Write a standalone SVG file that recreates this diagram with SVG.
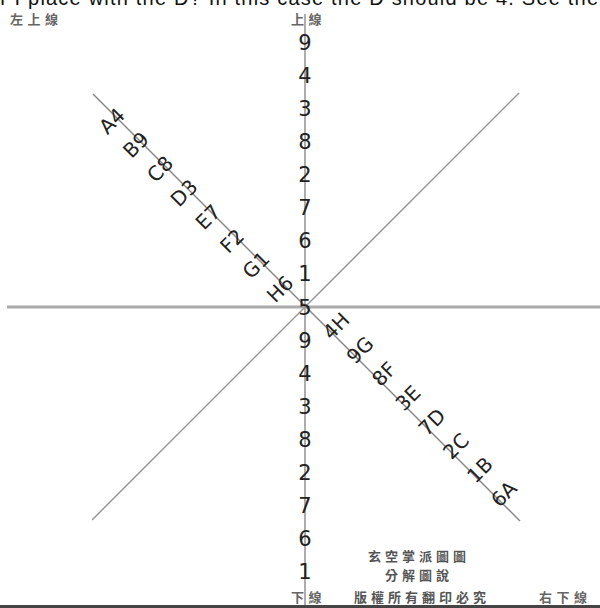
<svg xmlns="http://www.w3.org/2000/svg" width="600" height="608" viewBox="0 0 600 608">
<style>
.num{font-family:"DejaVu Sans",sans-serif;font-size:21px;fill:#222;text-anchor:middle}
.lab{font-family:"DejaVu Sans",sans-serif;font-size:20px;fill:#222;text-anchor:middle}
.cjk{font-family:"Noto Sans CJK TC","Noto Sans CJK SC",sans-serif;font-size:13px;font-weight:bold;fill:#666;letter-spacing:4.5px}
.cjk2{font-family:"Noto Sans CJK TC","Noto Sans CJK SC",sans-serif;font-size:13px;font-weight:bold;fill:#555;text-anchor:middle;letter-spacing:4px}
</style>
<rect width="600" height="608" fill="#fff"/>
<text x="0" y="5" font-family="Liberation Sans,Arial,sans-serif" font-size="20" fill="#111" textLength="598" lengthAdjust="spacing">PI place with the D?  In this case the D should be 4. See the</text>
<g id="connectors">
<line x1="7" y1="307" x2="600" y2="307" stroke="#aaa" stroke-width="3"/>
<line x1="305" y1="14" x2="305" y2="606" stroke="#999" stroke-width="1.6"/>
<line x1="93" y1="94" x2="520" y2="521" stroke="#888" stroke-width="1.5"/>
<line x1="519" y1="93" x2="92" y2="520" stroke="#999" stroke-width="1.5"/>
<line x1="0" y1="606.5" x2="600" y2="606.5" stroke="#444" stroke-width="3"/>
</g>
<g id="vertical-numbers">
<text class="num" x="305" y="50">9</text>
<text class="num" x="305" y="83">4</text>
<text class="num" x="305" y="116">3</text>
<text class="num" x="305" y="149">8</text>
<text class="num" x="305" y="182">2</text>
<text class="num" x="305" y="215">7</text>
<text class="num" x="305" y="248">6</text>
<text class="num" x="305" y="281">1</text>
<text class="num" x="305" y="315">5</text>
<text class="num" x="305" y="348">9</text>
<text class="num" x="305" y="381">4</text>
<text class="num" x="305" y="414">3</text>
<text class="num" x="305" y="447">8</text>
<text class="num" x="305" y="480">2</text>
<text class="num" x="305" y="513">7</text>
<text class="num" x="305" y="546">6</text>
<text class="num" x="305" y="579">1</text>
</g>
<g id="upper-left-labels">
<text class="lab" transform="translate(112,121) rotate(-45)" dy="7">A4</text>
<text class="lab" transform="translate(136,145) rotate(-45)" dy="7">B9</text>
<text class="lab" transform="translate(160,169) rotate(-45)" dy="7">C8</text>
<text class="lab" transform="translate(184,193) rotate(-45)" dy="7">D3</text>
<text class="lab" transform="translate(208,217) rotate(-45)" dy="7">E7</text>
<text class="lab" transform="translate(232,241) rotate(-45)" dy="7">F2</text>
<text class="lab" transform="translate(256,265) rotate(-45)" dy="7">G1</text>
<text class="lab" transform="translate(280,289) rotate(-45)" dy="7">H6</text>
</g>
<g id="lower-right-labels">
<text class="lab" transform="translate(336,326) rotate(-45)" dy="7">4H</text>
<text class="lab" transform="translate(360,350) rotate(-45)" dy="7">9G</text>
<text class="lab" transform="translate(384,374) rotate(-45)" dy="7">8F</text>
<text class="lab" transform="translate(408,398) rotate(-45)" dy="7">3E</text>
<text class="lab" transform="translate(432,422) rotate(-45)" dy="7">7D</text>
<text class="lab" transform="translate(456,446) rotate(-45)" dy="7">2C</text>
<text class="lab" transform="translate(480,470) rotate(-45)" dy="7">1B</text>
<text class="lab" transform="translate(504,494) rotate(-45)" dy="7">6A</text>
</g>
<g id="line-names">
<text class="cjk" x="10" y="24">左上線</text>
<text class="cjk" x="291" y="24">上線</text>
<text class="cjk" x="291" y="602">下線</text>
<text class="cjk" x="539" y="602">右下線</text>
</g>
<g id="caption">
<text class="cjk2" x="419" y="561">玄空掌派圖圖</text>
<text class="cjk2" x="419" y="580">分解圖說</text>
<text class="cjk2" x="422" y="602">版權所有翻印必究</text>
</g>
</svg>
